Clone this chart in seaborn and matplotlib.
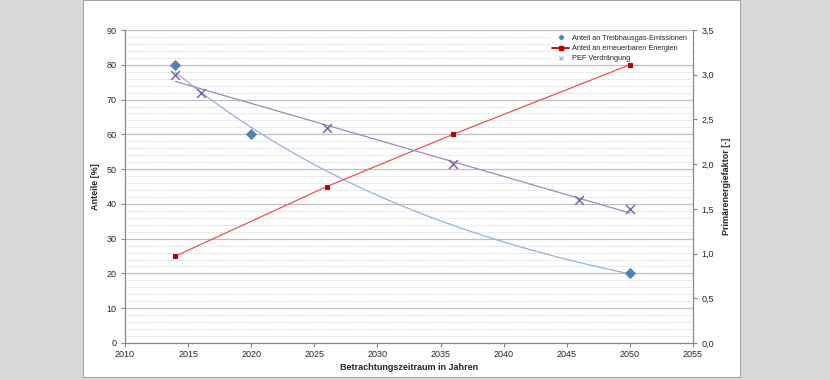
import numpy as np
import pandas as pd
import matplotlib
matplotlib.use("Agg")
import matplotlib.pyplot as plt
from matplotlib.patches import Rectangle
from matplotlib.ticker import MultipleLocator, FixedLocator, FixedFormatter
from matplotlib.lines import Line2D
import seaborn as sns

sns.set_style("white")
plt.rcParams['font.family'] = ['Liberation Sans', 'DejaVu Sans']

# DATA

thg_years = [2014, 2020, 2050]
thg_values = [80, 60, 20]

ee_years = [2014, 2026, 2036, 2050]
ee_values = [25, 45, 60, 80]

pef_years = [2014, 2016, 2026, 2036, 2046, 2050]
pef_values = [3.0, 2.8, 2.4, 2.0, 1.6, 1.5]

x_ticks = [2010, 2015, 2020, 2025, 2030, 2035, 2040, 2045, 2050, 2055]
left_ticks = [0, 10, 20, 30, 40, 50, 60, 70, 80, 90]
right_ticks = [0.0, 0.5, 1.0, 1.5, 2.0, 2.5, 3.0, 3.5]
right_labels = ["0,0", "0,5", "1,0", "1,5", "2,0", "2,5", "3,0", "3,5"]

thg = pd.DataFrame({'Jahr': thg_years, 'Wert': thg_values})
ee = pd.DataFrame({'Jahr': ee_years, 'Wert': ee_values})
pef = pd.DataFrame({'Jahr': pef_years, 'Wert': pef_values})

# FIGURE

fig = plt.figure(figsize=(8.3, 3.8), dpi=100)
fig.patch.set_facecolor('#D9D9D9')
fig.patches.append(Rectangle((83 / 830, 3 / 380), 657 / 830, 377 / 380,
                             transform=fig.transFigure, facecolor='white',
                             edgecolor='#A6A6A6', lw=0.8, zorder=-10))

ax = fig.add_axes([125 / 830, 37 / 380, 568 / 830, 313 / 380])
ax.set_facecolor('none')
ax2 = ax.twinx()

grey = '#868686'

# grid
ax.set_ylim(0, 90)
ax.set_xlim(2010, 2055)
ax.yaxis.set_major_locator(FixedLocator(left_ticks))
ax.yaxis.set_minor_locator(MultipleLocator(2))
ax.grid(which='major', axis='y', color='#C0C0C0', lw=0.9, linestyle='-')
ax.grid(which='minor', axis='y', color='#D0D0D0', lw=0.6,
        linestyle=(0, (1.5, 1.5)))
ax.set_axisbelow(True)

# exponential trend line for emissions
coef = np.polyfit(thg['Jahr'] - 2014, np.log(thg['Wert']), 1)
xs = np.linspace(2014, 2050, 100)
ax.plot(xs, np.exp(np.polyval(coef, xs - 2014)), color='#95B3D7', lw=0.9, zorder=2)

sns.scatterplot(data=thg, x='Jahr', y='Wert', ax=ax, marker='D', s=28,
                color='#4F81BD', edgecolor='#4F81BD', zorder=4)

sns.lineplot(data=ee, x='Jahr', y='Wert', ax=ax, color='#EE5050', lw=0.9,
             marker='s', markersize=3, markerfacecolor='#C00000',
             markeredgecolor='#C00000', zorder=3)

# right axis
ax2.set_ylim(0, 3.5)
sns.regplot(data=pef, x='Jahr', y='Wert', ax=ax2, scatter=False, ci=None,
            truncate=True, line_kws={'color': '#9C8AB8', 'lw': 0.9})
sns.scatterplot(data=pef, x='Jahr', y='Wert', ax=ax2, marker='x', s=40,
                color='#7E66A8', linewidth=1.1, zorder=4)
ax2.set_xlim(2010, 2055)

# axes styling
for a in (ax, ax2):
    for s in a.spines.values():
        s.set_color(grey)
        s.set_linewidth(0.8)
    a.spines['top'].set_visible(False)

ax.xaxis.set_major_locator(FixedLocator(x_ticks))
ax.set_xticklabels([str(t) for t in x_ticks])
ax.tick_params(axis='x', which='major', direction='out', length=3, color=grey,
               labelsize=6.5, pad=2, bottom=True)
ax.tick_params(axis='y', which='major', direction='out', length=3, color=grey,
               labelsize=6.5, pad=3, left=True)
ax.tick_params(axis='y', which='minor', length=0)

ax2.yaxis.set_major_locator(FixedLocator(right_ticks))
ax2.yaxis.set_major_formatter(FixedFormatter(right_labels))
ax2.tick_params(axis='y', direction='out', length=3, color=grey,
                labelsize=6.5, pad=3, right=True)

ax.set_xlabel("Betrachtungszeitraum in Jahren", fontsize=6.5,
              fontweight='bold', labelpad=3)
ax.set_ylabel("Anteile [%]", fontsize=6.5, fontweight='bold', labelpad=5)
ax2.set_ylabel("Primärenergiefaktor [-]", fontsize=6.5, fontweight='bold',
               labelpad=6)

# legend (on the lower axes, below the marks)
handles = [
    Line2D([], [], linestyle='none', marker='D', markersize=2.3,
           color='#4F81BD'),
    Line2D([], [], color='#C00000', lw=1.3, marker='s', markersize=3.2),
    Line2D([], [], linestyle='none', marker='x', markersize=3.5,
           color='#A99BC8', markeredgewidth=0.8),
]
labels = ["Anteil an Treibhausgas-Emissionen",
          "Anteil an erneuerbaren Energien",
          "PEF Verdrängung"]
leg = ax.legend(handles, labels, loc='upper right', fontsize=5.3,
                frameon=True, fancybox=False, framealpha=1,
                edgecolor='white', handlelength=2.4, handletextpad=0.4,
                labelspacing=0.4, borderpad=0.12,
                bbox_to_anchor=(0.998, 0.999))
leg.set_zorder(2.5)

fig.savefig("out.png", dpi=100, facecolor=fig.get_facecolor())
